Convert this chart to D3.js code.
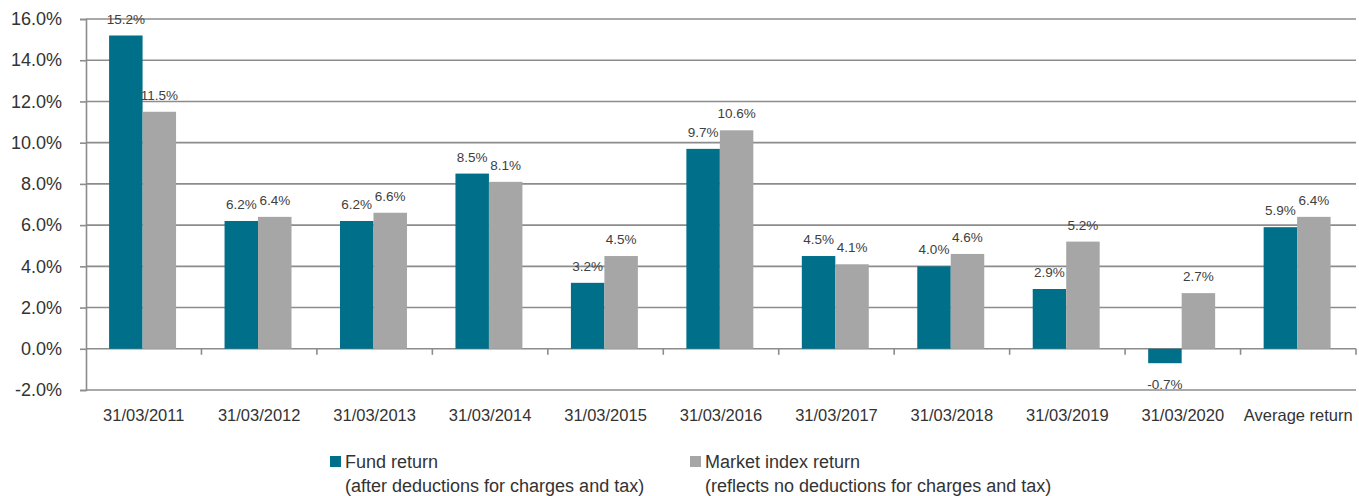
<!DOCTYPE html>
<html>
<head>
  <title>Fund vs market index returns</title>
  <script src="https://d3js.org/d3.v7.min.js"></script>
  <style>
    body { margin: 0; background: #fff; }
    text { font-family: "Liberation Sans", Arial, sans-serif; }
  </style>
</head>
<body>

<div id="chart"></div>

<script>
// Data
const categories = ["31/03/2011", "31/03/2012", "31/03/2013", "31/03/2014", "31/03/2015",
  "31/03/2016", "31/03/2017", "31/03/2018", "31/03/2019", "31/03/2020", "Average return"];
const fundReturn = [15.2, 6.2, 6.2, 8.5, 3.2, 9.7, 4.5, 4.0, 2.9, -0.7, 5.9];
const marketReturn = [11.5, 6.4, 6.6, 8.1, 4.5, 10.6, 4.1, 4.6, 5.2, 2.7, 6.4];
const seriesNames = ["Fund return", "Market index return"];
const seriesNotes = ["(after deductions for charges and tax)", "(reflects no deductions for charges and tax)"];
const yTicks = [-2, 0, 2, 4, 6, 8, 10, 12, 14, 16];

const colors = ["#00708A", "#A6A6A6"];
const W = 1359, H = 496;
const margin = { top: 19, right: 3, bottom: 106, left: 86 };
const width = W - margin.left - margin.right;
const height = H - margin.top - margin.bottom;

const svg = d3.select("#chart")
  .append("svg")
  .attr("width", W)
  .attr("height", H);

const g = svg.append("g")
  .attr("transform", `translate(${margin.left},${margin.top})`);

const x = d3.scaleBand()
  .domain(categories)
  .range([0, width]);

const step = x.step();
const x1 = d3.scaleBand()
  .domain([0, 1])
  .range([step * 0.2, step * 0.78]);

const y = d3.scaleLinear()
  .domain([-2, 16])
  .range([height, 0]);

// gridlines
g.append("g")
  .selectAll("line")
  .data(yTicks)
  .join("line")
  .attr("x1", 0)
  .attr("x2", width)
  .attr("y1", d => y(d))
  .attr("y2", d => y(d))
  .attr("stroke", "#8c8c8c")
  .attr("stroke-width", 1.6);

// y axis
const yAxis = g.append("g")
  .call(d3.axisLeft(y).tickValues(yTicks).tickFormat(d => d.toFixed(1) + "%").tickSize(6).tickPadding(18));
yAxis.select(".domain").attr("stroke", "#8c8c8c").attr("stroke-width", 1.6);
yAxis.selectAll(".tick line").attr("stroke", "#8c8c8c").attr("stroke-width", 1.6);
yAxis.selectAll(".tick text")
  .attr("fill", "#333")
  .style("font-size", "18px")
  .attr("x", -24);

// category boundary ticks on the zero line
g.append("g")
  .selectAll("line")
  .data(categories)
  .join("line")
  .attr("x1", d => x(d) + step)
  .attr("x2", d => x(d) + step)
  .attr("y1", y(0))
  .attr("y2", y(0) + 6)
  .attr("stroke", "#8c8c8c")
  .attr("stroke-width", 1.6);

// x labels
g.append("g")
  .selectAll("text")
  .data(categories)
  .join("text")
  .attr("x", d => x(d) + step / 2)
  .attr("y", height + 31)
  .attr("text-anchor", "middle")
  .attr("fill", "#333")
  .style("font-size", "16.5px")
  .text(d => d);

// bars
const series = [fundReturn, marketReturn];
series.forEach((vals, s) => {
  const bars = g.append("g");
  bars.selectAll("rect")
    .data(vals)
    .join("rect")
    .attr("x", (d, i) => x(categories[i]) + x1(s))
    .attr("width", x1.bandwidth())
    .attr("y", d => y(Math.max(0, d)))
    .attr("height", d => Math.abs(y(d) - y(0)))
    .attr("fill", colors[s]);

  bars.selectAll("text")
    .data(vals)
    .join("text")
    .attr("x", (d, i) => x(categories[i]) + x1(s) + x1.bandwidth() / 2)
    .attr("y", d => d >= 0 ? y(d) - 12 : y(d) + 26)
    .attr("text-anchor", "middle")
    .attr("fill", "#404040")
    .style("font-size", "13.5px")
    .text(d => d.toFixed(1) + "%");
});

// legend
const legendX = [330, 690];
const legend = svg.append("g");
seriesNames.forEach((name, s) => {
  legend.append("rect")
    .attr("x", legendX[s])
    .attr("y", 456)
    .attr("width", 11)
    .attr("height", 11)
    .attr("fill", colors[s]);
  legend.append("text")
    .attr("x", legendX[s] + 15)
    .attr("y", 468)
    .attr("fill", "#333")
    .style("font-size", "18px")
    .text(name);
  legend.append("text")
    .attr("x", legendX[s] + 15)
    .attr("y", 492)
    .attr("fill", "#333")
    .style("font-size", "18px")
    .text(seriesNotes[s]);
});
</script>

</body>
</html>
